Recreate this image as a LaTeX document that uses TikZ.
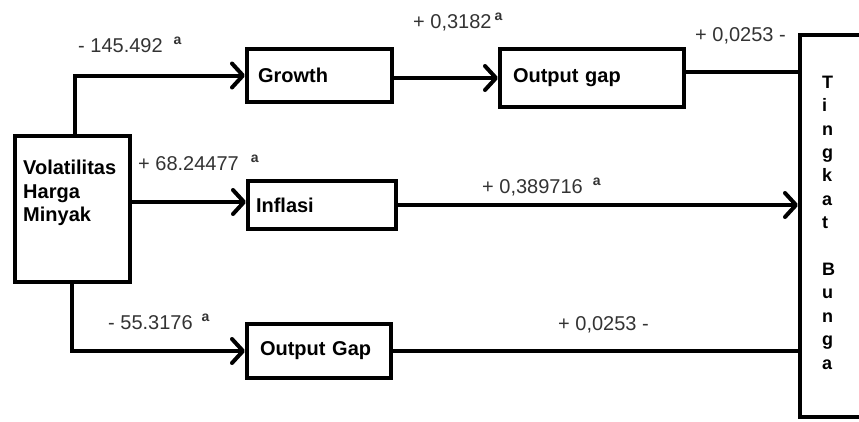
\documentclass[tikz,border=0pt]{standalone}
\usepackage{fontspec}
\setmainfont{Liberation Sans}
\usetikzlibrary{arrows.meta}
\tikzset{
  box/.style={draw, line width=4pt, rectangle, inner ysep=0pt, font=\fontsize{20}{23.5}\selectfont\bfseries, text=black},
  lbox/.style={box, align=left, text width=#1},
  conn/.style={line width=4pt},
  arr/.style={conn, -{Straight Barb[length=11pt,width=24pt,round]}},
  coef/.style={anchor=west, inner sep=0pt, font=\fontsize{20}{24}\selectfont, text=black!80},
  plain/.style={anchor=west, align=left, inner sep=0pt, text=black},
}
\newcommand{\supa}{\raisebox{0.4em}{\fontsize{14}{14}\selectfont\bfseries a}}
\begin{document}
\begin{tikzpicture}[x=1pt,y=-1pt]
\useasboundingbox (0,0) rectangle (859,421);
\clip (0,0) rectangle (859,421);
% boxes
\node[box, minimum width=115.5pt, minimum height=146.5pt] (vol) at (72.25,208.75) {};
\node[plain, font=\fontsize{20}{23.5}\selectfont\bfseries] (voltext) at (23,193) {Volatilitas\\Harga\\Minyak};
\node[lbox=123pt, inner xsep=11pt, minimum height=53pt] (gr) at (319.5,75.5) {Growth};
\node[lbox=158pt, inner xsep=13pt, minimum height=58pt] (og1) at (592,78) {Output gap};
\node[lbox=132pt, inner xsep=8pt, minimum height=48pt] (inf) at (322,205) {Inflasi};
\node[lbox=118pt, inner xsep=13pt, minimum height=54pt] (og2) at (319,351) {Output Gap};
\node[box, minimum width=80pt, minimum height=382.5pt] (tb) at (840,225.75) {};
\node[plain, font=\fontsize{18}{23.4}\selectfont\bfseries] (tbtext) at (822,222.5)
  {T\\i\\n\\g\\k\\a\\t\\[23.4pt]B\\u\\n\\g\\a};
% connectors
\coordinate (p1) at ([yshift=6pt]og1.east);
\coordinate (p2) at ([yshift=3pt]inf.west);
\draw[arr] ([xshift=3pt]vol.north) |- (gr.west);
\draw[arr] (gr.east |- og1.west) -- (og1.west);
\draw[conn] (p1) -- (p1 -| tb.west);
\draw[arr] (p2 -| vol.east) -- (p2);
\draw[arr] (inf.east) -- (inf.east -| tb.west);
\draw[arr] (vol.south) |- (og2.west);
\draw[conn] (og2.east) -- (og2.east -| tb.west);
% coefficients
\node[coef] (c1) at (78,45) {- 145.492\hspace{11pt}\supa};
\node[coef] (c2) at (413,22) {+ 0,3182\hspace{3pt}\supa};
\node[coef] (c3) at (695,36) {+ 0,0253 -};
\node[coef] (c4) at (138,163) {+ 68.24477\hspace{12pt}\supa};
\node[coef] (c5) at (482,187) {+ 0,389716\hspace{10pt}\supa};
\node[coef] (c6) at (108,322) {- 55.3176\hspace{9pt}\supa};
\node[coef] (c7) at (558,325) {+ 0,0253 -};
\end{tikzpicture}
\end{document}
